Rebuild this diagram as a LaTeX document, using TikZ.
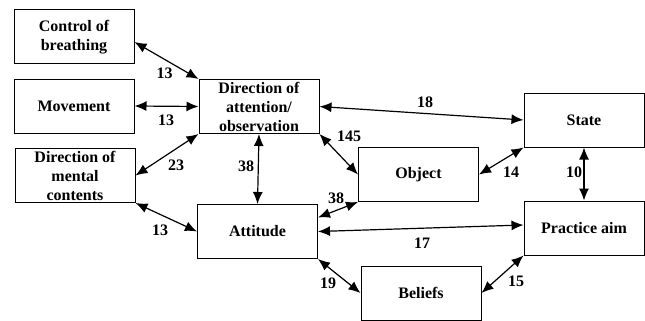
\documentclass[tikz,border=0pt]{standalone}
\usepackage{fontspec}
\setmainfont{Liberation Serif}
\usetikzlibrary{arrows.meta}

\begin{document}
\begin{tikzpicture}[x=1pt,y=-1pt]
\pgfmathsetmacro{\wi}{120}
\pgfmathsetmacro{\he}{54}

\tikzset{>={Latex[length=12pt,width=10pt]}}
\tikzset{box/.style={draw,line width=1pt,minimum width=\wi pt,
  minimum height=\he pt,align=center,inner sep=1pt,
  font=\fontsize{16}{19}\selectfont\bfseries}}
\tikzset{num/.style={inner sep=0pt,font=\fontsize{16}{19}\selectfont\bfseries}}
\tikzset{link/.style={line width=1.2pt,<->}}

\useasboundingbox (0,0) rectangle (645,321);

% boxes
\node[box] (breath) at (74,37) {Control of\\breathing};
\node[box] (move) at (74,106) {Movement};
\node[box] (mental) at (75,175.5) {Direction of\\mental\\contents};
\node[box] (attn) at (259,106.5) {Direction of\\attention/\\observation};
\node[box] (att) at (257.5,231.5) {Attitude};
\node[box] (object) at (418.5,174.5) {Object};
\node[box] (beliefs) at (421,293) {Beliefs};
\node[box] (state) at (584,120) {State};
\node[box] (aim) at (584,228) {Practice aim};

% links
\draw[link] ([yshift=-5pt]breath.east) -- (attn.north west);
\draw[link] (move.east) -- (attn.west);
\draw[link] (mental.east) -- (attn.south west);
\draw[link] (mental.south east) -- (att.west);
\draw[link] (attn.south) -- (att.north);
\draw[link] (attn.east) -- (state.west);
\draw[link] (attn.south east) -- (object.west);
\draw[link] (object.east) -- (state.south west);
\draw[link] (state.south) -- (aim.north);
\draw[link] ([yshift=14pt]att.east) -- (object.south west);
\draw[link] (att.east) -- ([yshift=3pt]aim.west);
\draw[link] (att.south east) -- (beliefs.west);
\draw[link] (beliefs.east) -- (aim.south west);

% counts
\node[num] (n1) at (164.5,73) {13};
\node[num] (n2) at (166,120) {13};
\node[num] (n3) at (176,165) {23};
\node[num] (n4) at (160,230) {13};
\node[num] (n5) at (246,166) {38};
\node[num] (n6) at (425,102) {18};
\node[num] (n7) at (349,136) {145};
\node[num] (n8) at (511,172) {14};
\node[num] (n9) at (574,172) {10};
\node[num] (n10) at (336,198) {38};
\node[num] (n11) at (422,243) {17};
\node[num] (n12) at (328,283) {19};
\node[num] (n13) at (516,281) {15};
\end{tikzpicture}
\end{document}
